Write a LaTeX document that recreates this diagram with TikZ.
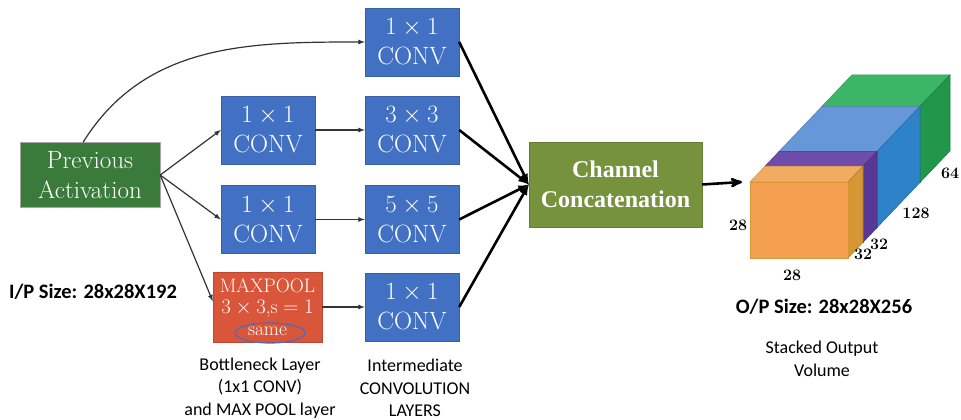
\documentclass[tikz,border=0pt]{standalone}
\usepackage{fontspec}
\newfontfamily\capfont{Carlito}
\newfontfamily\headfont{Liberation Serif}
\usetikzlibrary{arrows,shapes}
\definecolor{convblue}{RGB}{66,113,196}
\definecolor{prevgreen}{RGB}{58,122,58}
\definecolor{concatgreen}{RGB}{118,146,60}
\definecolor{poolred}{RGB}{218,86,58}
\definecolor{ringblue}{RGB}{70,110,190}
\definecolor{orfront}{RGB}{245,160,80}
\definecolor{ortop}{RGB}{242,172,98}
\definecolor{orside}{RGB}{214,150,52}
\definecolor{putop}{RGB}{112,76,170}
\definecolor{puside}{RGB}{88,56,150}
\definecolor{bltop}{RGB}{102,152,215}
\definecolor{blside}{RGB}{45,130,200}
\definecolor{grtop}{RGB}{58,182,102}
\definecolor{grside}{RGB}{34,150,74}
\tikzstyle{convbox}=[rectangle,fill=convblue,draw=convblue!85!black,text=white,minimum width=94pt,minimum height=68pt,inner sep=0pt,align=center,font=\fontsize{25}{30}\selectfont]
\tikzstyle{prevbox}=[rectangle,fill=prevgreen,draw=black!35,text=white,minimum width=140pt,minimum height=65pt,inner sep=0pt,align=center,font=\fontsize{25}{30}\selectfont]
\tikzstyle{poolbox}=[rectangle,fill=poolred,draw=poolred!85!black,text=white,minimum width=109pt,minimum height=70pt,inner sep=0pt,align=center,font=\fontsize{19.5}{21.5}\selectfont]
\tikzstyle{concatbox}=[rectangle,fill=concatgreen,draw=concatgreen!85!black,text=white,minimum width=173pt,minimum height=85pt,inner sep=0pt,align=center,font=\headfont\bfseries\fontsize{24}{30}\selectfont]
\tikzstyle{edge} = [draw,line width=1.2pt,black!80,-latex]
\tikzstyle{bigedge} = [draw,line width=2.6pt,black,-latex]
\tikzstyle{caption} = [align=center,font=\capfont\fontsize{18}{22.5}\selectfont]
\tikzstyle{sizelabel} = [font=\capfont\bfseries\fontsize{20.5}{24}\selectfont]
\tikzstyle{dim} = [inner sep=0pt,font=\bfseries\fontsize{16}{16}\selectfont]

\begin{document}
\begin{tikzpicture}[x=1pt,y=1pt]
    \useasboundingbox (0,0) rectangle (961,420);

    \node[prevbox] (prev) at (90,245) {Previous\\Activation};

    \foreach \x/\y/\name/\k in {268/290/ra/1, 268/200.5/rb/1, 412/378/cb/1, 412/290/cc/3, 412/200.5/cd/5, 412/113/ce/1}
        \node[convbox] (\name) at (\x,\y) {$\k\times\k$\\CONV};

    \node[poolbox] (pool) at (267.5,113) {MAXPOOL\\$3\times3$,s${}=1$\\same};
    \draw[ringblue,line width=1.2pt] (270,87) ellipse (35 and 10);

    \node[concatbox] (concat) at (615.5,235.5) {Channel\\Concatenation};

    % branches out of the previous activation
    \path[edge] (prev.102) to[out=58,in=180] (cb.west);
    \foreach \dest in {ra, rb}
        \path[edge] (prev.east) -- (\dest.west);
    \path[edge] (prev.east) -- (pool.174);

    \foreach \source/ \dest in {ra/cc, rb/cd, pool/ce}
        \path[edge] (\source.east) -- (\dest.west);

    \foreach \source in {cb, cc, cd, ce}
        \path[bigedge] (\source.east) -- (concat.west);

    % stacked output volume
    \coordinate (vol) at (742,238);
    \path[draw,line width=2.6pt,-stealth'] (concat.east) -- (vol);

    \foreach \a/\b/\topc/\sidec in {72/102/grtop/grside, 29/72/bltop/blside, 15/29/putop/puside, 0/15/ortop/orside}
    {
        \filldraw[fill=\sidec,draw=\sidec!85!black,line width=0.6pt] ({750+\a},{162+1.05*\a}) rectangle ({848+\a},{238+1.05*\a});
        \filldraw[fill=\topc,draw=\topc!85!black,line width=0.6pt] ({750+\a},{238+1.05*\a}) -- ({848+\a},{238+1.05*\a}) -- ({848+\b},{238+1.05*\b}) -- ({750+\b},{238+1.05*\b}) -- cycle;
        \filldraw[fill=\sidec,draw=\sidec!85!black,line width=0.6pt] ({848+\a},{162+1.05*\a}) -- ({848+\a},{238+1.05*\a}) -- ({848+\b},{238+1.05*\b}) -- ({848+\b},{162+1.05*\b}) -- cycle;
    }
    \filldraw[fill=orfront,draw=orside,line width=0.6pt] (750,162) rectangle (848,238);

    \node[dim] (hgt) at (738,195) {28};
    \node[dim] (wid) at (792,145) {28};
    \node[dim] (dpa) at (863,166) {32};
    \node[dim] (dpb) at (879,176) {32};
    \node[dim] (dpc) at (916,207) {128};
    \node[dim] (dpd) at (950,247) {64};

    % captions
    \node[sizelabel] (ipsize) at (93,128) {I/P Size: 28x28X192};
    \node[sizelabel] (opsize) at (824,113) {O/P Size: 28x28X256};
    \node[caption] (stacked) at (822,61) {Stacked Output\\Volume};
    \node[caption] (bneck) at (260,32) {Bottleneck Layer\\(1x1 CONV)\\and MAX POOL layer};
    \node[caption] (inter) at (415,32) {Intermediate\\CONVOLUTION\\LAYERS};
\end{tikzpicture}
\end{document}
